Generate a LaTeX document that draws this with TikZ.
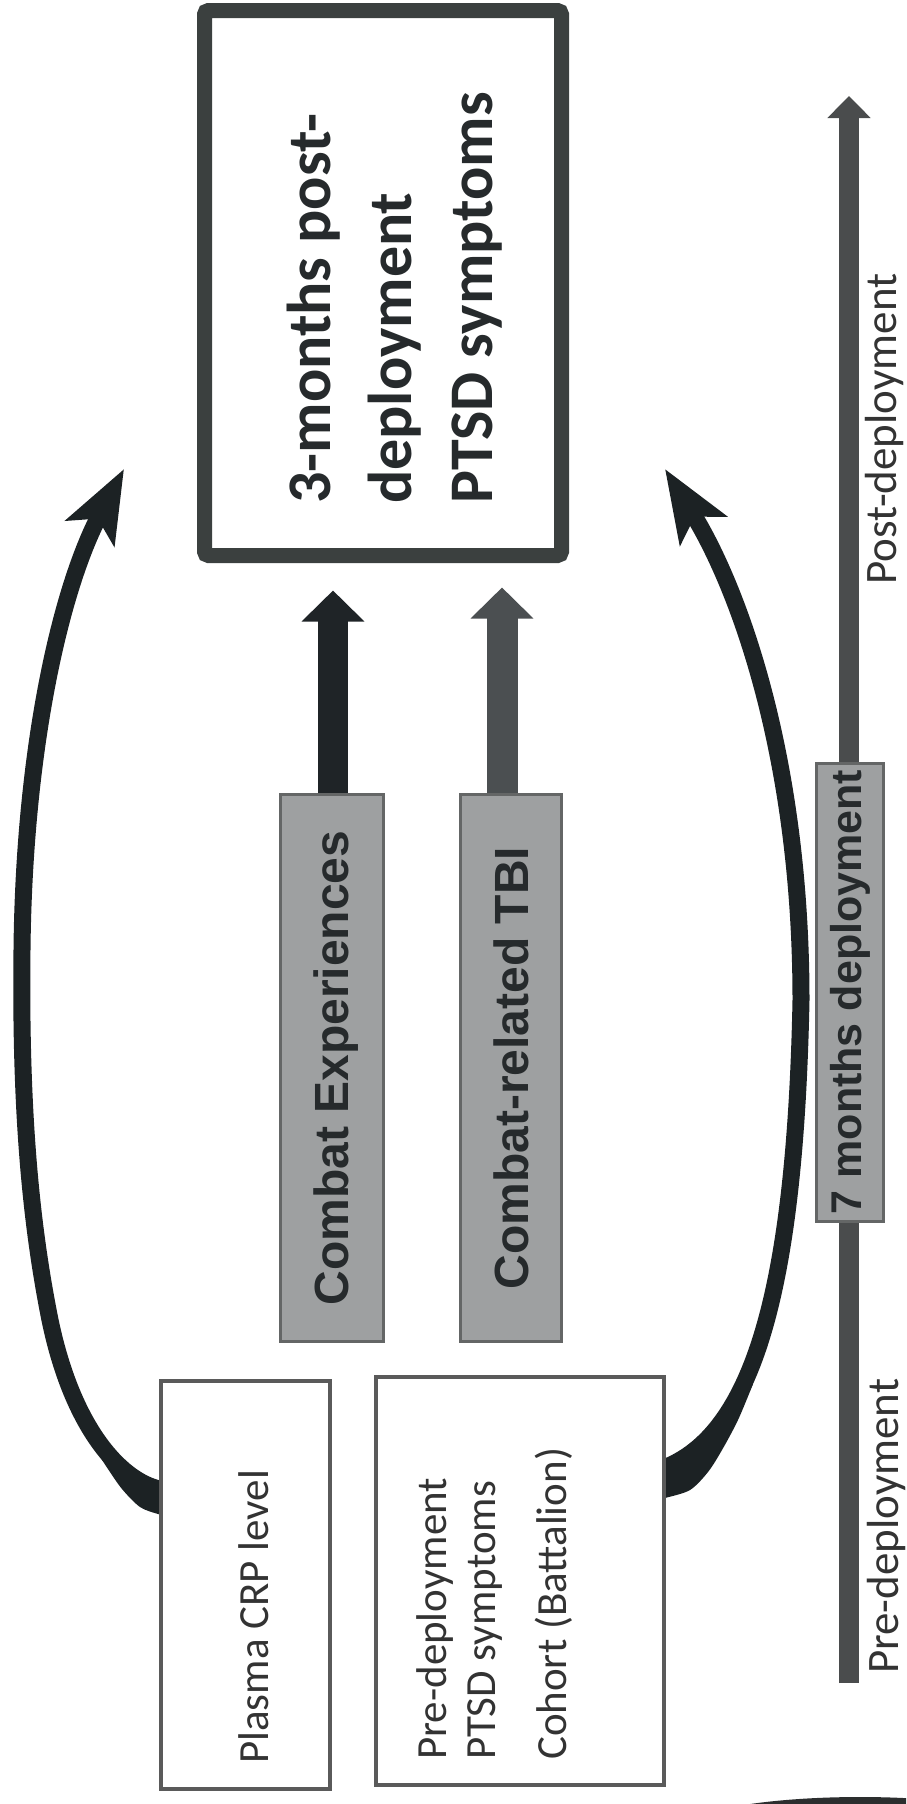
\documentclass[tikz,border=0pt]{standalone}
\usepackage{fontspec}
\setmainfont{Carlito}
\newfontfamily\arialfont{Liberation Sans}
\usetikzlibrary{arrows.meta,calc}
\definecolor{framecol}{HTML}{3B403F}
\definecolor{textdark}{HTML}{262A2C}
\definecolor{textgray}{HTML}{333333}
\definecolor{boxline}{HTML}{5A5A5A}
\definecolor{grayfill}{HTML}{9EA0A1}
\definecolor{grayline}{HTML}{646666}
\definecolor{arrowA}{HTML}{1F2427}
\definecolor{arrowB}{HTML}{4B4F51}
\definecolor{curvecol}{HTML}{1C2224}
\definecolor{barcol}{HTML}{4A4C4D}
\definecolor{blobcol}{HTML}{2C2E2F}
\tikzset{
  outbox/.style={draw=framecol, line width=15pt, rounded corners=4pt, fill=white, inner sep=0pt},
  whitebox/.style={draw=boxline, line width=4pt, fill=white, inner sep=0pt},
  graybox/.style={draw=grayline, line width=3pt, fill=grayfill, inner sep=0pt},
  toplbl/.style={rotate=90, anchor=base west, inner sep=0pt, text=textdark, font=\fontsize{62}{74}\selectfont\bfseries},
  plainlbl/.style={rotate=90, anchor=base west, inner sep=0pt, text=textgray, font=\fontsize{43}{52}\selectfont},
  timelbl/.style={rotate=90, anchor=base west, inner sep=0pt, text=textgray, font=\fontsize{45}{54}\selectfont},
  graylbl/.style={rotate=90, anchor=base, inner sep=0pt, text=textdark, font=\arialfont\fontsize{48}{58}\selectfont\bfseries},
  straightA/.style={line width=30pt, draw=arrowA, -{Triangle[length=31pt,width=61pt]}},
  straightB/.style={line width=31pt, draw=arrowB, -{Triangle[length=31pt,width=61pt]}},
  curvearrow/.style={line width=17pt, draw=curvecol, -{Stealth[length=72pt,width=54pt,inset=16pt]}},
  timebar/.style={line width=20pt, draw=barcol, -{Triangle[length=22pt,width=42pt]}}
}
\begin{document}
\begin{tikzpicture}[x=1pt,y=-1pt]
\useasboundingbox (0,0) rectangle (906,1804);

% scan artefact at the bottom edge
\begin{scope}
\clip (0,0) rectangle (906,1804);
\fill[blobcol] (860,1835) ellipse [x radius=190, y radius=38];
\end{scope}

% time line
\coordinate (tl0) at (849,1683);
\coordinate (tl1) at (849,96);
\draw[timebar] (tl0) -- (tl1);

% named ends of the curved connectors
\coordinate (ls) at (166,1490);
\coordinate (lt) at (124,469);
\coordinate (rs) at (658,1470);
\coordinate (rt) at (665,469);

% curved arrows (drawn under the boxes)
\fill[curvecol] plot[smooth, tension=0.5] coordinates {(175,1518) (158,1514) (140,1507) (122,1489) (106,1466) (92,1444) (80,1424)}
  -- (86,1420) -- (104,1449) -- (136,1482) -- (175,1486) -- cycle;
\draw[curvearrow] (ls) .. controls (130,1487) and (75,1440) .. (50,1320)
  .. controls (32,1230) and (20,1120) .. (22,950)
  .. controls (24,750) and (60,590) .. (lt);
\fill[curvecol] plot[smooth, tension=0.5] coordinates {(655,1500) (665,1498) (690,1490) (708,1472) (722,1450) (738,1420) (753,1384)}
  -- (746,1378) -- (728,1412) -- (697,1450) -- (660,1472) -- (655,1472) -- cycle;
\draw[curvearrow] (rs) .. controls (750,1440) and (795,1300) .. (801,1000)
  .. controls (801,760) and (740,590) .. (rt);

% boxes
\node[outbox, minimum width=357pt, minimum height=545pt] (outcome) at (383,283) {};
\node[graybox, minimum width=103pt, minimum height=547pt] (cexp) at (332,1068) {};
\node[graybox, minimum width=101pt, minimum height=547pt] (tbi) at (511,1068) {};
\node[graybox, minimum width=67pt, minimum height=458pt] (deploy) at (850,992.5) {};
\node[whitebox, minimum width=169pt, minimum height=408pt] (plasma) at (245.5,1585) {};
\node[whitebox, minimum width=288pt, minimum height=408pt] (cohort) at (520,1581) {};

% straight arrows
\draw[straightA, shorten >=27.5pt] ([xshift=1pt]cexp.north) -- ([xshift=1pt]cexp.north |- outcome.south);
\draw[straightB, shorten >=24.5pt] ([xshift=-9pt]tbi.north) -- ([xshift=-9pt]tbi.north |- outcome.south);

% labels
\node[toplbl] (o1) at (330,504) {3-months post-};
\node[toplbl] (o2) at (411,504) {deployment};
\node[toplbl] (o3) at (492,504) {PTSD symptoms};
\node[graylbl] (cexpT) at (348,1068) {Combat Experiences};
\node[graylbl] (tbiT) at (528,1068) {Combat-related TBI};
\node[graylbl, font=\arialfont\fontsize{43}{52}\selectfont\bfseries] (deployT) at (861,992) {7 months deployment};
\node[plainlbl] (plasmaT) at (268,1764) {Plasma CRP level};
\node[plainlbl] (c1) at (446,1760) {Pre-deployment};
\node[plainlbl] (c2) at (495,1760) {PTSD symptoms};
\node[plainlbl] (c3) at (566,1760) {Cohort (Battalion)};
\node[timelbl] (postT) at (896,585) {Post-deployment};
\node[timelbl] (preT) at (898,1674) {Pre-deployment};
\end{tikzpicture}
\end{document}
